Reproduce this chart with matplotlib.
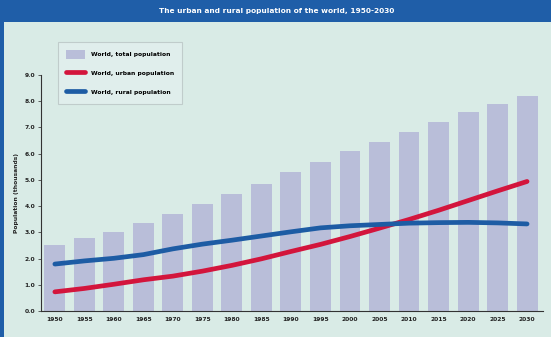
import matplotlib
matplotlib.use("Agg")
import matplotlib.pyplot as plt
from matplotlib.patches import Rectangle, Patch
from matplotlib.lines import Line2D

years = [1950, 1955, 1960, 1965, 1970, 1975, 1980, 1985, 1990, 1995,
         2000, 2005, 2010, 2015, 2020, 2025, 2030]
total = [2.52, 2.77, 3.03, 3.34, 3.70, 4.07, 4.45, 4.85, 5.29, 5.70,
         6.09, 6.46, 6.84, 7.21, 7.58, 7.91, 8.20]
urban = [0.73, 0.86, 1.02, 1.19, 1.33, 1.52, 1.74, 1.99, 2.27, 2.54,
         2.84, 3.16, 3.49, 3.84, 4.21, 4.58, 4.94]
rural = [1.79, 1.91, 2.01, 2.15, 2.37, 2.55, 2.70, 2.86, 3.02, 3.17,
         3.25, 3.30, 3.35, 3.37, 3.38, 3.36, 3.32]
yticks = [0, 1, 2, 3, 4, 5, 6, 7, 8, 9]
title = "The urban and rural population of the world, 1950-2030"
ylabel = "Population (thousands)"
labels = ["World, total population", "World, urban population", "World, rural population"]

BG = "#d9ebe6"
BAR = "#b9bed9"
RED = "#d3153c"
BLUE = "#1d5ca4"
HEAD = "#1f5ea8"
FONT = ["DejaVu Sans"]

fig = plt.figure(figsize=(5.54, 3.42), dpi=100)
fig.patch.set_facecolor("white")
fig.patches.append(Rectangle((0, 5/342), 551/554, 1 - 5/342, transform=fig.transFigure,
                             facecolor=BG, edgecolor="none", zorder=-3))
fig.patches.append(Rectangle((0, 5/342), 4/554, 1 - 5/342, transform=fig.transFigure,
                             facecolor=HEAD, edgecolor="none", zorder=-2))
fig.patches.append(Rectangle((0, 1 - 22/342), 551/554, 22/342, transform=fig.transFigure,
                             facecolor=HEAD, edgecolor="none", zorder=-2))
fig.text(277/554, 1 - 11/342, title, color="white", fontsize=5.3, fontweight="bold",
         ha="center", va="center", family=FONT)

ax = fig.add_axes([41/554, 1 - 311/342, 502/554, 236/342])
ax.set_zorder(2)
ax.set_facecolor("none")
x = list(range(len(years)))
ax.bar(x, total, width=0.71, color=BAR, zorder=1)
ax.plot(x, urban, color=RED, lw=3.4, solid_capstyle="round", zorder=3)
ax.plot(x, rural, color=BLUE, lw=3.4, solid_capstyle="round", zorder=3)

ax.set_xlim(-0.47, 16.54)
ax.set_ylim(0, 9)
ax.set_yticks(yticks)
ax.set_yticklabels([f"{v:.1f}" for v in yticks], family=FONT, fontsize=4.3, fontweight="bold", color="#222222")
ax.set_xticks(x)
ax.set_xticklabels([str(y) for y in years], family=FONT, fontsize=4.3, fontweight="bold", color="#222222")
ax.tick_params(axis="x", length=0, pad=4)
ax.tick_params(axis="y", length=2, width=0.6, pad=2, color="#444444")
for s in ["top", "right"]:
    ax.spines[s].set_visible(False)
for s in ["left", "bottom"]:
    ax.spines[s].set_linewidth(0.8)
    ax.spines[s].set_color("#333333")
ax.set_ylabel(ylabel, family=FONT, fontsize=4.3, fontweight="bold", color="#222222", labelpad=4)

handles = [Patch(facecolor=BAR, edgecolor="none"),
           Line2D([], [], color=RED, lw=3.4, solid_capstyle="round"),
           Line2D([], [], color=BLUE, lw=3.4, solid_capstyle="round")]
leg = fig.legend(handles, labels, loc="upper left", bbox_to_anchor=(58/554, 1 - 42/342),
                 bbox_transform=fig.transFigure, frameon=True, fancybox=False,
                 prop={"family": FONT, "size": 4.3, "weight": "bold"},
                 handlelength=3.3, handleheight=2.0, labelspacing=1.6, borderpad=1.3,
                 handletextpad=0.9, borderaxespad=0)
leg.get_frame().set_facecolor("#e3efee")
leg.get_frame().set_edgecolor("#b9c4c4")
leg.get_frame().set_linewidth(0.8)

fig.savefig("out.png", dpi=100, facecolor=fig.get_facecolor())
